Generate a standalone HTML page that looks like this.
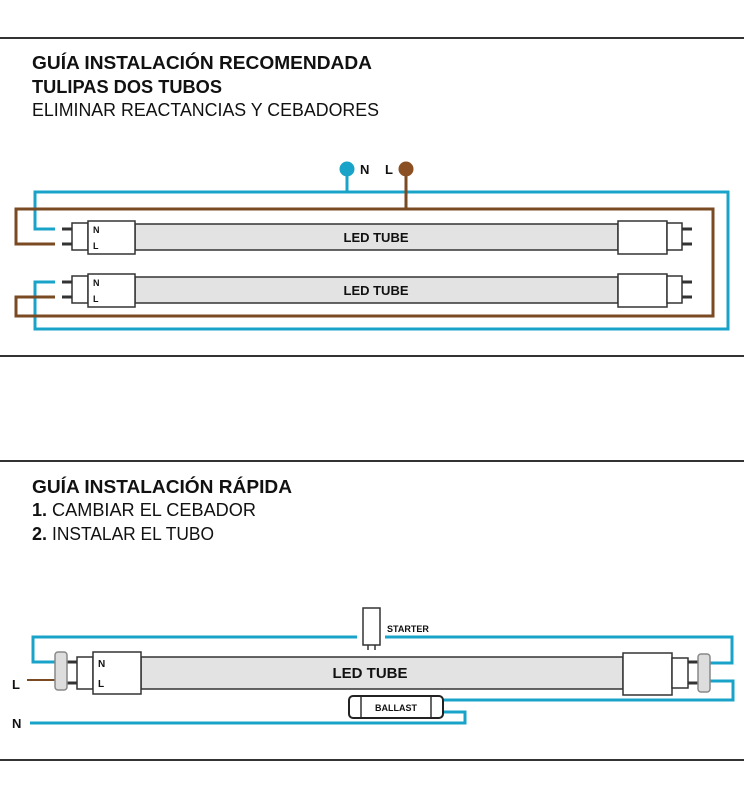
<!DOCTYPE html>
<html><head><meta charset="utf-8"><style>html,body{margin:0;padding:0;background:#fff}svg{display:block}</style></head>
<body>
<svg width="744" height="800" viewBox="0 0 744 800" xmlns="http://www.w3.org/2000/svg" font-family="Liberation Sans, sans-serif">
<rect width="744" height="800" fill="#fff"/>
<g stroke="#333" stroke-width="2"><line x1="0" y1="38" x2="744" y2="38"/><line x1="0" y1="356" x2="744" y2="356"/><line x1="0" y1="461" x2="744" y2="461"/><line x1="0" y1="760" x2="744" y2="760"/></g>
<g fill="#111">
<text x="32" y="69" font-size="18" font-weight="bold" textLength="340" lengthAdjust="spacingAndGlyphs">GUÍA INSTALACIÓN RECOMENDADA</text>
<text x="32" y="93" font-size="18" font-weight="bold" textLength="190" lengthAdjust="spacingAndGlyphs">TULIPAS DOS TUBOS</text>
<text x="32" y="116" font-size="18" textLength="347" lengthAdjust="spacingAndGlyphs">ELIMINAR REACTANCIAS Y CEBADORES</text>
<text x="32" y="493" font-size="18" font-weight="bold" textLength="260" lengthAdjust="spacingAndGlyphs">GUÍA INSTALACIÓN RÁPIDA</text>
<text x="32" y="516" font-size="18" font-weight="bold">1.</text>
<text x="52" y="516" font-size="18" textLength="204" lengthAdjust="spacingAndGlyphs">CAMBIAR EL CEBADOR</text>
<text x="32" y="540" font-size="18" font-weight="bold">2.</text>
<text x="52" y="540" font-size="18" textLength="162" lengthAdjust="spacingAndGlyphs">INSTALAR EL TUBO</text>
</g>
<!-- top wires -->
<g fill="none" stroke-width="3">
<polyline stroke="#1aa3c8" points="55,229 35,229 35,192 728,192 728,329 35,329 35,282 55,282"/>
<polyline stroke="#7a4a22" points="55,244 16,244 16,209 713,209 713,316 16,316 16,297 55,297"/>
<line stroke="#1aa3c8" x1="347" y1="169" x2="347" y2="192"/>
<line stroke="#7a4a22" x1="406" y1="169" x2="406" y2="209"/>
</g>
<circle cx="347" cy="169" r="7.5" fill="#1aa3c8"/>
<circle cx="406" cy="169" r="7.5" fill="#8a4f22"/>
<text x="360" y="174" font-size="13" font-weight="bold" fill="#111">N</text>
<text x="385" y="174" font-size="13" font-weight="bold" fill="#111">L</text>
<!-- tubes top -->
<g stroke="#333" stroke-width="1.5">
<g>
<rect x="135" y="224" width="483" height="26" fill="#e3e3e3"/>
<rect x="72" y="223" width="16" height="27" fill="#fff"/><rect x="88" y="221" width="47" height="33" fill="#fff"/>
<rect x="618" y="221" width="49" height="33" fill="#fff"/><rect x="667" y="223" width="15" height="27" fill="#fff"/>
<line x1="62" y1="229" x2="72" y2="229" stroke-width="3"/><line x1="62" y1="244" x2="72" y2="244" stroke-width="3"/>
<line x1="682" y1="229" x2="692" y2="229" stroke-width="3"/><line x1="682" y1="244" x2="692" y2="244" stroke-width="3"/>
</g>
<g>
<rect x="135" y="277" width="483" height="26" fill="#e3e3e3"/>
<rect x="72" y="276" width="16" height="27" fill="#fff"/><rect x="88" y="274" width="47" height="33" fill="#fff"/>
<rect x="618" y="274" width="49" height="33" fill="#fff"/><rect x="667" y="276" width="15" height="27" fill="#fff"/>
<line x1="62" y1="282" x2="72" y2="282" stroke-width="3"/><line x1="62" y1="297" x2="72" y2="297" stroke-width="3"/>
<line x1="682" y1="282" x2="692" y2="282" stroke-width="3"/><line x1="682" y1="297" x2="692" y2="297" stroke-width="3"/>
</g>
</g>
<g fill="#111" font-weight="bold">
<text x="93" y="233" font-size="9">N</text><text x="93" y="249" font-size="9">L</text>
<text x="93" y="286" font-size="9">N</text><text x="93" y="302" font-size="9">L</text>
<text x="376" y="242" font-size="13" text-anchor="middle">LED TUBE</text>
<text x="376" y="295" font-size="13" text-anchor="middle">LED TUBE</text>
</g>
<!-- bottom -->
<g fill="none" stroke="#1aa3c8" stroke-width="3">
<polyline points="57,662 33,662 33,637 357,637"/>
<polyline points="385,637 732,637 732,663 708,663"/>
<polyline points="708,681 733,681 733,700 443,700"/>
<polyline points="30,723 465,723 465,712 443,712"/>
</g>
<line x1="27" y1="680" x2="57" y2="680" stroke="#7a4a22" stroke-width="2"/>
<g stroke="#333" stroke-width="1.5">
<rect x="141" y="657" width="482" height="32" fill="#e3e3e3"/>
<rect x="77" y="657" width="16" height="32" fill="#fff"/><rect x="93" y="652" width="48" height="42" fill="#fff"/>
<rect x="623" y="653" width="49" height="42" fill="#fff"/><rect x="672" y="658" width="16" height="30" fill="#fff"/>
<line x1="67" y1="662" x2="77" y2="662" stroke-width="3"/><line x1="67" y1="683" x2="77" y2="683" stroke-width="3"/>
<line x1="688" y1="662" x2="698" y2="662" stroke-width="3"/><line x1="688" y1="683" x2="698" y2="683" stroke-width="3"/>
<rect x="55" y="652" width="12" height="38" rx="3" fill="#ddd" stroke="#888"/>
<rect x="698" y="654" width="12" height="38" rx="3" fill="#ddd" stroke="#888"/>
<rect x="363" y="608" width="17" height="37" fill="#fff"/>
<line x1="368" y1="645" x2="368" y2="650"/><line x1="375" y1="645" x2="375" y2="650"/>
<rect x="349" y="696" width="94" height="22" rx="4" fill="#fff" stroke="#222" stroke-width="2"/>
<line x1="361" y1="697" x2="361" y2="717"/><line x1="431" y1="697" x2="431" y2="717"/>
</g>
<g fill="#111" font-weight="bold">
<text x="98" y="667" font-size="10">N</text><text x="98" y="687" font-size="10">L</text>
<text x="370" y="678" font-size="15" text-anchor="middle">LED TUBE</text>
<text x="387" y="632" font-size="9">STARTER</text>
<text x="396" y="711" font-size="9" text-anchor="middle">BALLAST</text>
<text x="12" y="689" font-size="13">L</text>
<text x="12" y="728" font-size="13">N</text>
</g>
</svg>
</body></html>
